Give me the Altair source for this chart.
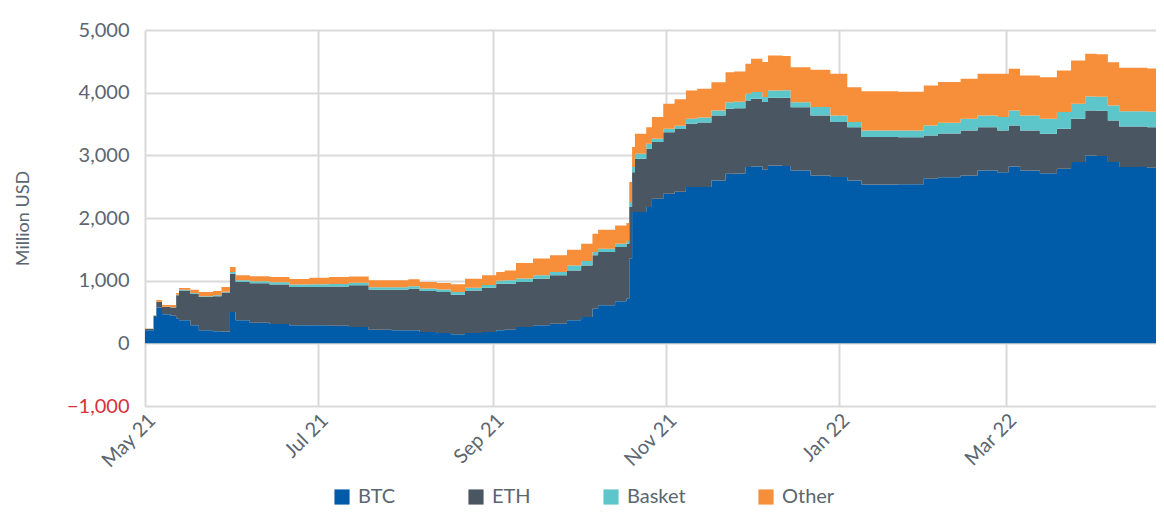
import altair as alt
import pandas as pd

dates = ["2021-05-01","2021-05-04","2021-05-05","2021-05-07","2021-05-10","2021-05-12","2021-05-13","2021-05-17","2021-05-20","2021-05-25",
         "2021-05-28","2021-05-31","2021-06-02","2021-06-07","2021-06-14","2021-06-21","2021-06-28","2021-07-05","2021-07-12","2021-07-19",
         "2021-07-27","2021-08-02","2021-08-06","2021-08-12","2021-08-17","2021-08-22","2021-08-28","2021-09-02","2021-09-05","2021-09-09",
         "2021-09-15","2021-09-21","2021-09-27","2021-10-02","2021-10-06","2021-10-08","2021-10-14","2021-10-18","2021-10-19","2021-10-20",
         "2021-10-21","2021-10-25","2021-10-27","2021-10-31","2021-11-04","2021-11-08","2021-11-12","2021-11-17","2021-11-22","2021-11-25",
         "2021-11-29","2021-12-01","2021-12-05","2021-12-07","2021-12-12","2021-12-15","2021-12-22","2021-12-29","2022-01-04","2022-01-09",
         "2022-01-15","2022-01-22","2022-01-31","2022-02-05","2022-02-13","2022-02-19","2022-02-26","2022-03-02","2022-03-06","2022-03-13",
         "2022-03-19","2022-03-24","2022-03-29","2022-04-02","2022-04-06","2022-04-10","2022-04-20","2022-04-30"]

btc = [210,420,570,465,440,400,370,287,207,191,
       190,500,367,330,310,290,287,280,260,218,
       207,207,181,165,144,165,181,207,218,260,
       287,314,367,420,553,606,670,713,1351,2094,
       2094,2174,2308,2388,2420,2494,2494,2600,2707,2710,
       2812,2820,2770,2839,2830,2759,2680,2653,2600,2536,
       2536,2540,2627,2650,2680,2759,2732,2823,2759,2716,
       2786,2892,2999,2990,2892,2812,2800,2800]

eth = [20,20,90,115,130,366,475,505,531,560,
       620,612,611,630,630,610,611,625,665,638,
       649,665,653,653,632,680,707,745,734,718,
       745,771,797,824,851,850,866,877,823,638,
       852,931,903,982,1000,1010,1030,1037,1036,1040,
       1064,1084,1080,1080,1090,1010,957,877,850,755,
       755,750,691,700,717,691,665,654,638,629,
       638,692,717,720,665,649,650,650]

basket = [2,3,5,5,5,8,10,10,15,15,
          15,28,30,30,35,40,43,43,40,40,
          40,40,40,42,42,42,42,45,53,55,
          55,53,80,69,53,53,53,43,80,80,
          80,80,53,53,53,80,80,80,106,106,
          106,106,80,117,117,80,133,106,80,106,
          106,106,159,170,187,187,213,239,240,239,
          266,239,224,224,239,244,245,245]

other = [3,5,25,25,35,30,27,54,66,70,
         75,77,77,80,85,85,107,110,100,110,
         110,110,104,102,123,145,155,140,159,250,
         266,266,250,277,293,304,293,286,319,319,
         319,265,346,400,420,451,460,451,478,480,
         479,531,558,558,550,558,595,664,558,627,
         627,620,638,650,638,664,691,665,638,664,
         664,691,680,680,691,692,690,690]

series_names = ["BTC", "ETH", "Basket", "Other"]
series_colors = ["#005CA9", "#4A5763", "#5CC6CB", "#F78F3A"]
y_ticks = [-1000, 0, 1000, 2000, 3000, 4000, 5000]

rows = []
for i, d in enumerate(dates):
    for k, vals in enumerate([btc, eth, basket, other]):
        rows.append({"date": d, "series": series_names[k], "value": vals[i], "order": k})
df = pd.DataFrame(rows)

FONT = "Lato"
TXT = "#5B6670"

x_ticks = [alt.DateTime(year=2021, month=5, date=1, utc=True),
           alt.DateTime(year=2021, month=7, date=1, utc=True),
           alt.DateTime(year=2021, month=9, date=1, utc=True),
           alt.DateTime(year=2021, month=11, date=1, utc=True),
           alt.DateTime(year=2022, month=1, date=1, utc=True),
           alt.DateTime(year=2022, month=3, date=1, utc=True)]

chart = alt.Chart(df).mark_area(interpolate="step-after", clip=True).encode(
    x=alt.X("date:T",
            scale=alt.Scale(type="utc",
                            domain=[alt.DateTime(year=2021, month=5, date=1, utc=True),
                                    alt.DateTime(year=2022, month=4, date=23, utc=True)]),
            axis=alt.Axis(values=x_ticks, format="%b %y", labelAngle=-45, labelFontSize=20,
                          labelColor=TXT, labelFont=FONT, title=None, ticks=False, domain=False,
                          labelPadding=4, grid=True)),
    y=alt.Y("value:Q", stack="zero",
            scale=alt.Scale(domain=[-1000, 5000], nice=False),
            axis=alt.Axis(values=y_ticks, format=",.0f", labelFontSize=20, labelFont=FONT,
                          labelColor={"condition": {"test": "datum.value < 0", "value": "#D7313A"}, "value": TXT},
                          title="Million USD", titleFont=FONT, titleFontSize=18, titleFontWeight="normal",
                          titleColor=TXT, titlePadding=34, labelPadding=16, ticks=False, domain=False)),
    color=alt.Color("series:N",
                    scale=alt.Scale(domain=series_names, range=series_colors),
                    legend=alt.Legend(title=None, orient="none", direction="horizontal",
                                      legendX=187, legendY=457, symbolType="square", symbolSize=230,
                                      symbolStrokeWidth=0, labelFontSize=20, labelFont=FONT,
                                      labelColor=TXT, columnPadding=70, labelOffset=6)),
    order=alt.Order("order:Q"),
).properties(
    width=1011, height=376,
    autosize=alt.AutoSizeParams(type="none"),
    padding={"left": 137, "top": 22, "right": 0, "bottom": 101},
).configure_view(stroke=None).configure_axis(
    gridColor="#D9D9D9", gridWidth=2
)

chart.save("out.html", embed_options={"renderer": "svg", "actions": False})
